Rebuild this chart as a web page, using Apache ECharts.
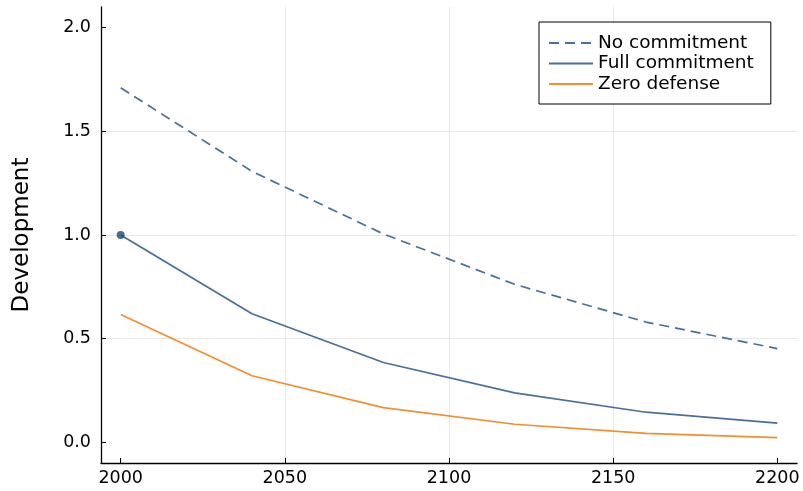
<!DOCTYPE html>
<html>
<head>
<meta charset="utf-8">
<script src="https://cdn.jsdelivr.net/npm/echarts@6/dist/echarts.min.js"></script>
<style>
  html, body { margin: 0; padding: 0; background: #fff; }
  #chart { width: 803px; height: 491px; }
</style>
</head>
<body>
<div id="chart"></div>
<script>
// values
var years = [2000, 2040, 2080, 2120, 2160, 2200];
var noCommitment = [1.71, 1.307, 1.005, 0.762, 0.58, 0.452];
var fullCommitment = [1.0, 0.62, 0.385, 0.238, 0.145, 0.092];
var zeroDefense = [0.616, 0.321, 0.167, 0.087, 0.043, 0.022];
var xTicks = [2000, 2050, 2100, 2150, 2200];
var yTicks = [0, 0.5, 1.0, 1.5, 2.0];
var seriesNames = ['No commitment', 'Full commitment', 'Zero defense'];

function pairs(ys) {
    return years.map(function (y, i) { return [y, ys[i]]; });
}

var blue = '#4a6f96';
var orange = '#f28e2b';
var font = 'DejaVu Sans';

var myChart = echarts.init(document.getElementById('chart'));

var option = {
    animation: false,
    backgroundColor: '#fff',
    grid: { left: 101, right: 6, top: 7, bottom: 28 },
    legend: {
        data: seriesNames,
        orient: 'vertical',
        left: 539,
        top: 22,
        padding: [11, 17, 10, 9],
        itemWidth: 44,
        itemHeight: 14,
        itemGap: 0.5,
        itemTextGap: 10,
        borderColor: '#000',
        borderWidth: 1,
        backgroundColor: '#fff',
        itemStyle: { opacity: 0 },   // hide the symbol in the legend icon, keep the line
        textStyle: { fontFamily: font, fontSize: 18.5, lineHeight: 20, color: '#000' }
    },
    xAxis: {
        type: 'value',
        min: 1994,
        max: 2206,
        splitNumber: 4,
        axisLine: { show: true, onZero: false, lineStyle: { color: '#000', width: 1.3 } },
        axisTick: { show: true, inside: true, length: 5, customValues: xTicks, lineStyle: { color: '#000' } },
        axisLabel: {
            customValues: xTicks,
            margin: 6,
            color: '#000',
            fontFamily: font,
            fontSize: 17.5,
            formatter: function (v) { return String(v); }
        },
        splitLine: { show: true, showMinLine: false, showMaxLine: false, lineStyle: { color: '#e8e8e8', width: 1 } }
    },
    yAxis: {
        type: 'value',
        min: -0.1,
        max: 2.1,
        splitNumber: 5,
        name: 'Development',
        nameLocation: 'middle',
        nameGap: 67,
        nameTextStyle: { fontFamily: font, fontSize: 23, color: '#000' },
        axisLine: { show: true, onZero: false, lineStyle: { color: '#000', width: 1.3 } },
        axisTick: { show: true, inside: true, length: 5, customValues: yTicks, lineStyle: { color: '#000' } },
        axisLabel: {
            customValues: yTicks,
            margin: 10,
            color: '#000',
            fontFamily: font,
            fontSize: 17.5,
            formatter: function (v) { return v.toFixed(1); }
        },
        splitLine: { show: true, showMinLine: false, showMaxLine: false, lineStyle: { color: '#e8e8e8', width: 1 } }
    },
    series: [
        {
            name: seriesNames[0],
            type: 'line',
            symbol: 'none',
            color: blue,
            lineStyle: { color: blue, width: 1.7, type: [10, 6] },
            data: pairs(noCommitment)
        },
        {
            name: seriesNames[1],
            type: 'line',
            symbol: 'none',
            color: blue,
            lineStyle: { color: blue, width: 1.7 },
            data: pairs(fullCommitment)
        },
        {
            name: seriesNames[2],
            type: 'line',
            symbol: 'none',
            color: orange,
            lineStyle: { color: orange, width: 1.7 },
            data: pairs(zeroDefense)
        },
        {
            name: 'start',
            type: 'scatter',
            symbol: 'circle',
            symbolSize: 8,
            itemStyle: { color: '#1a4878' },
            z: 5,
            data: [[years[0], fullCommitment[0]]]
        }
    ]
};

myChart.setOption(option);
</script>
</body>
</html>
